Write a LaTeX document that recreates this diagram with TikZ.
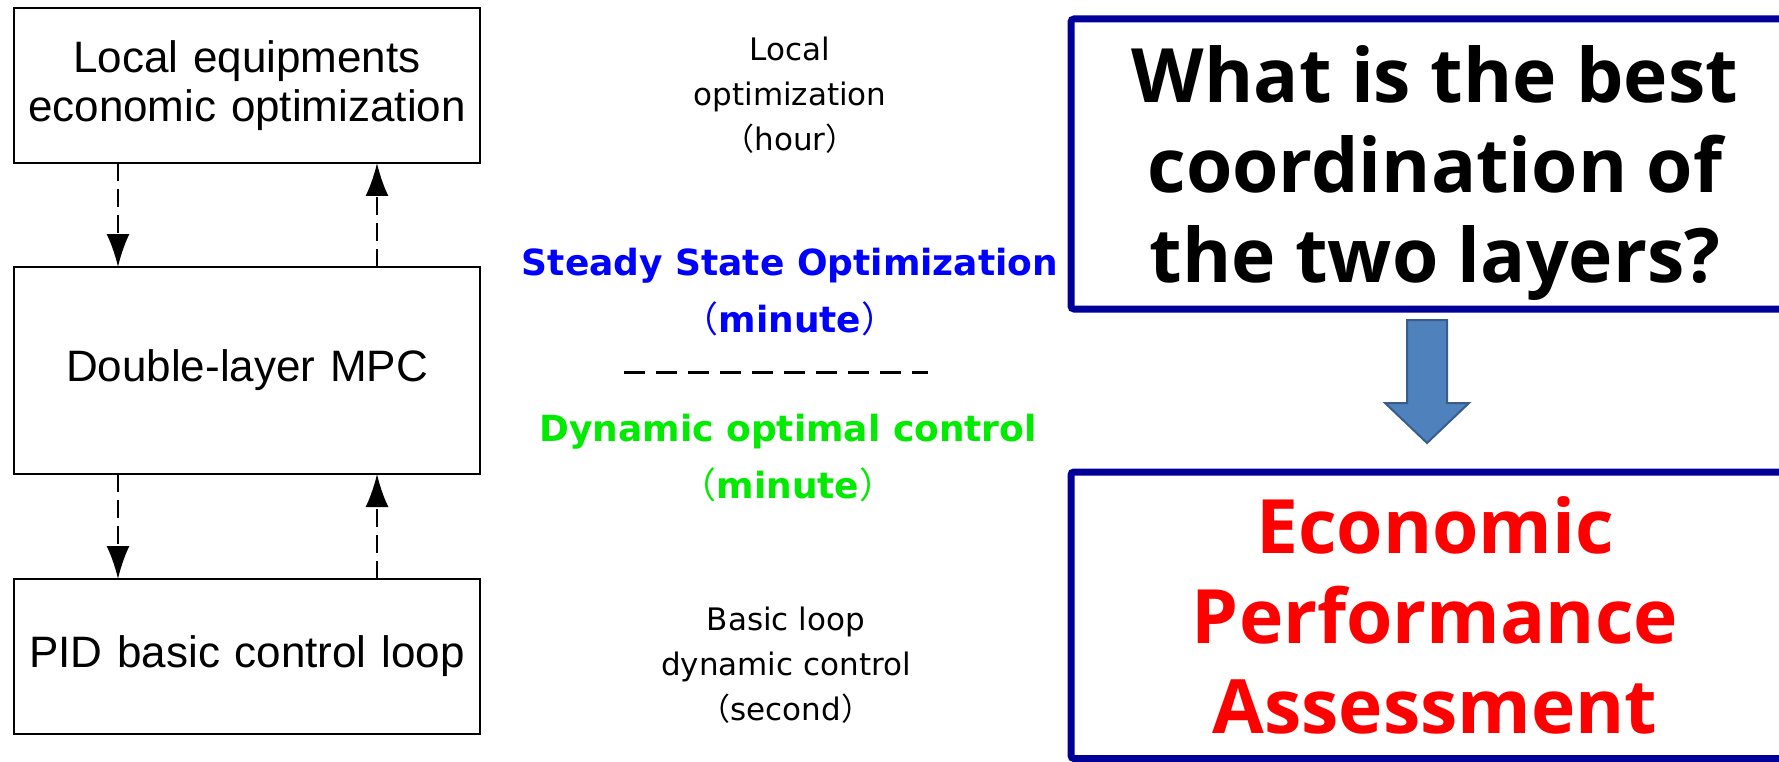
\documentclass[tikz,border=0pt]{standalone}
\usepackage{fontspec}
\setmainfont{Liberation Sans}
\newfontfamily\widefont{DejaVu Sans}
\newfontfamily\headfont{Open Sans}
\newfontfamily\cjk{Noto Sans CJK SC}
\usetikzlibrary{arrows.meta,positioning}

\definecolor{boxblue}{RGB}{0,0,153}
\definecolor{arrowfill}{RGB}{79,129,189}
\definecolor{arrowline}{RGB}{56,93,138}
\definecolor{ssblue}{RGB}{0,0,255}
\definecolor{dcgreen}{RGB}{0,235,0}
\definecolor{epred}{RGB}{255,0,0}

\begin{document}
\begin{tikzpicture}[x=1pt,y=1pt,node distance=104pt]
    \tikzset{
      layernode/.style={rectangle,draw=black,line width=2.2pt,outer sep=0pt,inner sep=0pt,minimum width=466pt,text width=460pt,align=center,font=\fontsize{44}{49}\selectfont},
      timenode/.style={align=center,inner sep=0pt,font=\widefont\fontsize{31}{45}\selectfont},
      levelnode/.style={align=center,inner sep=0pt,font=\widefont\bfseries\fontsize{36}{57}\selectfont},
      bignode/.style={rectangle,rounded corners=3pt,draw=boxblue,line width=7pt,inner sep=0pt,minimum width=728pt,align=center,text depth=0pt,font=\headfont\bfseries\fontsize{75}{90}\selectfont},
      arrow/.style={-{Latex[length=33pt,width=23pt]},line width=2pt,dash pattern=on 18pt off 8pt}
    }
    \useasboundingbox (0,0) rectangle (1779,-762);
    \clip (0,0) rectangle (1779,-762);

    % control layers
    \node[layernode,minimum height=155pt](local) at (247,-85.5){Local equipments\\economic optimization};
    \node[layernode,minimum height=207pt,below=of local](mpc){Double-layer MPC};
    \node[layernode,minimum height=155pt,below=105pt of mpc](pid){PID basic control loop};

    \draw[arrow]([xshift=104pt]local.south west) -- ([xshift=104pt]mpc.north west);
    \draw[arrow]([xshift=363pt]mpc.north west) -- ([xshift=363pt]local.south west);
    \draw[arrow]([xshift=104pt]mpc.south west) -- ([xshift=104pt]pid.north west);
    \draw[arrow]([xshift=363pt]pid.north west) -- ([xshift=363pt]mpc.south west);

    % time scales
    \node[timenode](localtime) at (790,-95){Local\\optimization\\{\cjk （}hour{\cjk ）}};
    \node[levelnode,text=ssblue](steady) at (790,-292){Steady State Optimization\\{\cjk\mdseries （}minute{\cjk\mdseries ）}};
    \draw[line width=3pt,dash pattern=on 21pt off 11pt](624,-372) -- (928,-372);
    \node[levelnode,text=dcgreen](dynamic) at (788,-458){Dynamic optimal control\\{\cjk\mdseries （}minute{\cjk\mdseries ）}};
    \node[timenode](basictime) at (786,-665){Basic loop\\dynamic control\\{\cjk （}second{\cjk ）}};

    % question and assessment
    \node[bignode,minimum height=290pt](question) at (1435,-164){What is the best\\coordination of\\the two layers?};
    \node[bignode,minimum height=286.5pt,text=epred](assess) at (1435,-615.25){Economic\\Performance\\Assessment};
    \filldraw[fill=arrowfill,draw=arrowline,line width=2pt,line join=miter]
      (1407,-320) -- (1447,-320) -- (1447,-403) -- (1469,-403) -- (1427,-443) -- (1385,-403) -- (1407,-403) -- cycle;
\end{tikzpicture}
\end{document}
